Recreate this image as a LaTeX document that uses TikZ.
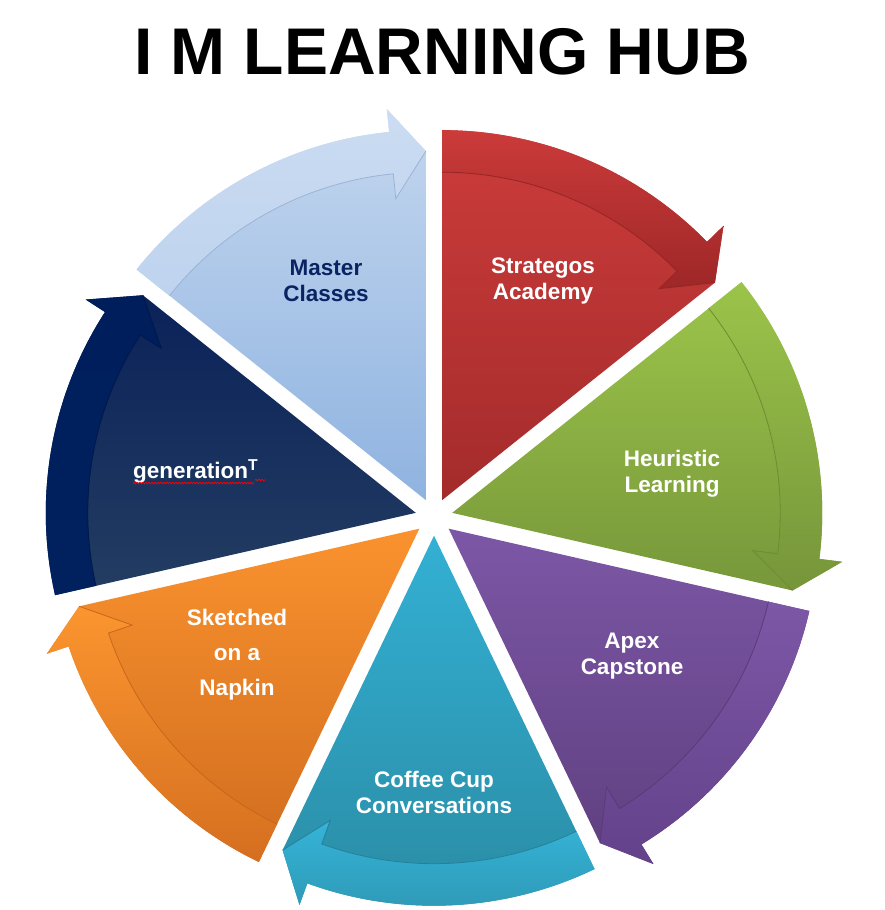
\documentclass[tikz,border=0pt]{standalone}
\usepackage{fontspec}
\setmainfont{Liberation Sans}
\usetikzlibrary{calc,decorations.pathmorphing}
\definecolor{lbA}{HTML}{C4D7EF}\definecolor{lbB}{HTML}{8FB3E0}\definecolor{lbC}{HTML}{CBDCF2}\definecolor{lbD}{HTML}{BED3EE}\definecolor{lbE}{HTML}{9AB4D6}
\definecolor{rdA}{HTML}{CC3C3B}\definecolor{rdB}{HTML}{A42B2B}\definecolor{rdC}{HTML}{CB3B3A}\definecolor{rdD}{HTML}{9E2727}\definecolor{rdE}{HTML}{962525}
\definecolor{grA}{HTML}{9CC54A}\definecolor{grB}{HTML}{77973A}\definecolor{grC}{HTML}{9BC44A}\definecolor{grD}{HTML}{76953A}\definecolor{grE}{HTML}{6E8C34}
\definecolor{puA}{HTML}{7C57A6}\definecolor{puB}{HTML}{5F3F7F}\definecolor{puC}{HTML}{7C57A6}\definecolor{puD}{HTML}{64428A}\definecolor{puE}{HTML}{5A3A7A}
\definecolor{cyA}{HTML}{33B0D4}\definecolor{cyB}{HTML}{2A8BA3}\definecolor{cyC}{HTML}{35B4D8}\definecolor{cyD}{HTML}{2E97B4}\definecolor{cyE}{HTML}{26809A}
\definecolor{orA}{HTML}{FA922E}\definecolor{orB}{HTML}{D06C1F}\definecolor{orC}{HTML}{FB952F}\definecolor{orD}{HTML}{D56F20}\definecolor{orE}{HTML}{C6671C}
\definecolor{nvA}{HTML}{0A2259}\definecolor{nvB}{HTML}{243D62}\definecolor{nvC}{HTML}{001E5C}\definecolor{nvD}{HTML}{00205E}\definecolor{nvE}{HTML}{00184A}
\definecolor{mcText}{HTML}{0A2463}
\newcommand\wedgeseg[6]{%
  \pgfmathsetmacro\aA{#1}%
  \pgfmathsetmacro\aB{#1-51.4286}%
  \pgfmathsetmacro\aM{#1-25.7143}%
  \pgfmathsetmacro\aH{\aB+5.7}%
  \begin{scope}[shift={($(C)+(\aM:18.7)$)}]
    \path[top color=#2,bottom color=#3] (0,0) -- (\aA:370) arc[start angle=\aA,end angle=\aH,radius=370] -- (\aH:393) -- (\aB:349) -- cycle;
    \path[top color=#4,bottom color=#5] (\aA:370) arc[start angle=\aA,end angle=\aH,radius=370] -- (\aH:393) -- (\aB:349) -- (\aH:303) -- (\aH:328) arc[start angle=\aH,end angle=\aA,radius=328] -- cycle;
    \draw[#6,line width=0.8] (\aA:328) arc[start angle=\aA,end angle=\aH,radius=328] -- (\aH:303) -- (\aB:349);
  \end{scope}}
\tikzset{
  lbl/.style={font=\fontsize{22.5}{26}\selectfont\bfseries,text=white,align=center,inner sep=0pt},
  ttl/.style={font=\fontsize{66}{70}\selectfont\bfseries,text=black,inner sep=0pt}
}
\begin{document}
\begin{tikzpicture}[x=1pt,y=1pt]
\useasboundingbox[fill=white] (0,0) rectangle (885,-910);
\coordinate (C) at (434,-517);
\wedgeseg{141.4286}{lbA}{lbB}{lbC}{lbD}{lbE}
\wedgeseg{90}{rdA}{rdB}{rdC}{rdD}{rdE}
\wedgeseg{38.5714}{grA}{grB}{grC}{grD}{grE}
\wedgeseg{-12.8571}{puA}{puB}{puC}{puD}{puE}
\wedgeseg{-64.2857}{cyA}{cyB}{cyC}{cyD}{cyE}
\wedgeseg{-115.7143}{orA}{orB}{orC}{orD}{orE}
\wedgeseg{-167.1429}{nvA}{nvB}{nvC}{nvD}{nvE}
\node[ttl] (title) at (442,-52) {I M LEARNING HUB};
\node[lbl,text=mcText] (master) at (326,-281) {Master\\Classes};
\node[lbl] (strat) at (543,-281) {Strategos\\Academy};
\node[lbl] (heur) at (672,-474) {Heuristic\\Learning};
\node[lbl] (apex) at (632,-656) {Apex\\Capstone};
\node[lbl] (coffee) at (434,-792) {Coffee Cup\\Conversations};
\node[lbl,font=\fontsize{22.5}{35}\selectfont\bfseries] (napkin) at (237,-655) {Sketched\\on a\\Napkin};
\node[lbl,anchor=base west] (gen) at (133,-478) {generation\textsuperscript{T}};
\draw[red,line width=0.7,decorate,decoration={snake,amplitude=0.9,segment length=3}] (gen.base west)++(0,-5) coordinate (w1) -- ++(121,0) coordinate (w2);
\draw[red,line width=0.7,decorate,decoration={snake,amplitude=0.9,segment length=3}] (w2)++(1,3) coordinate (w3) -- ++(10,0);
\end{tikzpicture}
\end{document}
